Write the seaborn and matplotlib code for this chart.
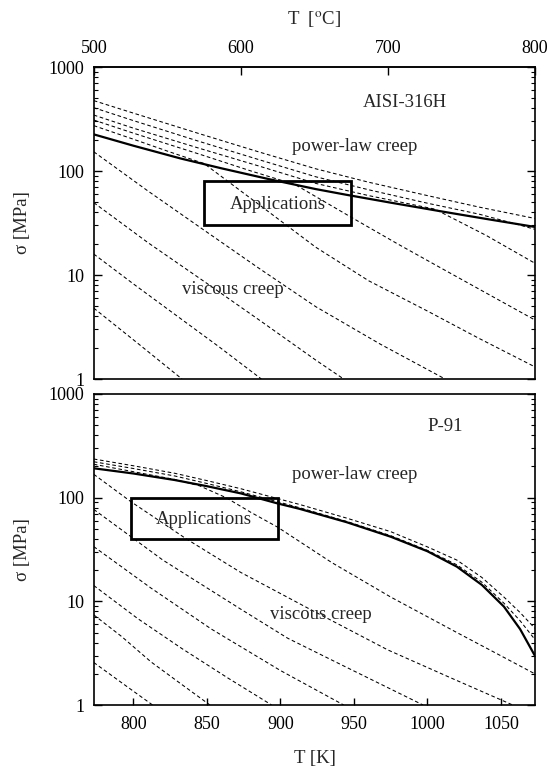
import numpy as np
import pandas as pd
import matplotlib
matplotlib.use("Agg")
import matplotlib.pyplot as plt
from matplotlib.patches import Rectangle
from matplotlib.ticker import LogLocator, NullFormatter, FuncFormatter, FixedLocator
import seaborn as sns

# ---------------- AISI-316H (upper map) ----------------
# boundary between power-law and viscous creep
ss_T = [773, 800, 832, 860, 893, 924, 945, 975, 1009, 1040, 1073]
ss_sig = [225, 175, 132, 106, 83, 67, 59, 49.6, 41, 34.6, 29]

# iso-strain-rate contours, T [K] / sigma [MPa]
ss_c1_T = [773, 800, 845, 885, 924, 960, 1000, 1035, 1073]
ss_c1_sig = [475, 360, 228, 153, 105, 78, 58, 45, 35]
ss_c2_T = [773, 800, 845, 885, 924, 960, 1000, 1035, 1060, 1073]
ss_c2_sig = [406, 305, 192, 129, 88, 66, 49, 38.5, 31, 27.5]
ss_c3_T = [773, 800, 845, 885, 924, 960, 1005, 1040, 1073]
ss_c3_sig = [345, 258, 165, 112, 76, 58, 43, 24, 13]
ss_c4_T = [773, 800, 845, 880, 910, 948, 980, 1010, 1040, 1073]
ss_c4_sig = [309, 231, 145, 100, 74, 36, 19.8, 11.5, 6.7, 3.7]
ss_c5_T = [773, 800, 825, 848, 885, 924, 960, 1000, 1035, 1073]
ss_c5_sig = [273, 202, 152, 118, 48, 18.5, 8.8, 4.5, 2.46, 1.31]
ss_c6_T = [773, 810, 848, 885, 924, 968, 1012]
ss_c6_sig = [153, 64, 27, 11.7, 4.96, 2.16, 1]
ss_c7_T = [773, 810, 850, 887, 924, 943]
ss_c7_sig = [49.6, 20.4, 8.3, 3.57, 1.52, 1]
ss_c8_T = [773, 800, 830, 858, 887]
ss_c8_sig = [15.9, 8.2, 4.0, 2.05, 1]
ss_c9_T = [773, 803, 833]
ss_c9_sig = [4.8, 2.2, 1]

ss_box_T = [848, 948]
ss_box_sig = [30, 80]

# ---------------- P-91 (lower map) ----------------
p91_T = [773, 800, 828, 850, 873, 898, 913, 945, 975, 1000, 1020, 1037, 1052, 1063, 1073]
p91_sig = [192, 171, 148, 129, 110, 88, 78, 58, 42, 30.4, 21.6, 14.4, 8.9, 5.4, 3.0]

p91_c1_T = [773, 800, 828, 850, 873, 913, 945, 975, 1000, 1020, 1037, 1052, 1063, 1073]
p91_c1_sig = [236, 203, 172, 146, 122, 86, 63.5, 47, 33.5, 25, 17, 11, 7.8, 5.5]
p91_c2_T = [773, 800, 828, 850, 873, 913, 945, 975, 1000, 1020, 1037, 1052, 1063, 1073]
p91_c2_sig = [222, 191, 162, 137, 114, 80, 59, 43, 31, 22.5, 15.3, 9.6, 6.5, 4.3]
p91_c3_T = [773, 800, 828, 845, 863, 880, 898, 935, 975, 1020, 1045, 1073]
p91_c3_sig = [210, 178, 150, 130, 100, 72, 52, 23.6, 11, 5, 3.25, 2.0]
p91_c4_T = [773, 798, 836, 873, 920, 973, 1015, 1058]
p91_c4_sig = [168, 92, 40, 19, 8.4, 3.4, 1.85, 1]
p91_c5_T = [773, 820, 873, 905, 940, 997]
p91_c5_sig = [77, 25, 8.4, 4.4, 2.5, 1]
p91_c6_T = [773, 812, 853, 900, 943]
p91_c6_sig = [33.7, 13.4, 5.4, 2.15, 1]
p91_c7_T = [773, 803, 833, 864, 894]
p91_c7_sig = [14.2, 6.8, 3.5, 1.83, 1]
p91_c8_T = [773, 792, 812, 832, 852]
p91_c8_sig = [7.4, 4.57, 2.6, 1.61, 1]
p91_c9_T = [773, 793, 813]
p91_c9_sig = [2.57, 1.6, 1]

p91_box_T = [798, 898]
p91_box_sig = [40, 100]


def contours(pairs):
    frames = []
    for i, (t, s) in enumerate(pairs):
        frames.append(pd.DataFrame({"T": t, "sigma": s, "curve": i}))
    return pd.concat(frames, ignore_index=True)


ss_contours = contours([
    (ss_c1_T, ss_c1_sig), (ss_c2_T, ss_c2_sig), (ss_c3_T, ss_c3_sig),
    (ss_c4_T, ss_c4_sig), (ss_c5_T, ss_c5_sig), (ss_c6_T, ss_c6_sig),
    (ss_c7_T, ss_c7_sig), (ss_c8_T, ss_c8_sig), (ss_c9_T, ss_c9_sig),
])
p91_contours = contours([
    (p91_c1_T, p91_c1_sig), (p91_c2_T, p91_c2_sig), (p91_c3_T, p91_c3_sig),
    (p91_c4_T, p91_c4_sig), (p91_c5_T, p91_c5_sig), (p91_c6_T, p91_c6_sig),
    (p91_c7_T, p91_c7_sig), (p91_c8_T, p91_c8_sig), (p91_c9_T, p91_c9_sig),
])
ss_boundary = pd.DataFrame({"T": ss_T, "sigma": ss_sig})
p91_boundary = pd.DataFrame({"T": p91_T, "sigma": p91_sig})

sns.set_theme(style="white")
plt.rcParams["font.family"] = ["Liberation Serif", "DejaVu Serif"]
plt.rcParams["mathtext.fontset"] = "stix"

FS = 13
fig = plt.figure(figsize=(5.5, 7.71), dpi=100)
ax1 = fig.add_axes([94 / 550, 1 - 379 / 771, 441 / 550, 312 / 771])
ax2 = fig.add_axes([94 / 550, 1 - 705 / 771, 441 / 550, 311 / 771])

T_MIN, T_MAX = 773.15, 1073.15


def draw_map(ax, cont, bound, box_T, box_sig):
    ax.set_yscale("log")
    ax.set_xlim(T_MIN, T_MAX)
    ax.set_ylim(1, 1000)
    sns.lineplot(data=cont, x="T", y="sigma", units="curve", estimator=None,
                 sort=False, color="black", lw=0.75, linestyle=(0, (3.5, 2.5)),
                 ax=ax, legend=False)
    sns.lineplot(data=bound, x="T", y="sigma", estimator=None, sort=False,
                 color="black", lw=1.6, ax=ax, legend=False)
    ax.add_patch(Rectangle((box_T[0], box_sig[0]), box_T[1] - box_T[0],
                           box_sig[1] - box_sig[0], fill=False,
                           edgecolor="black", lw=2.0, zorder=5))
    ax.set_xlabel("")
    ax.set_ylabel("")
    for sp in ax.spines.values():
        sp.set_linewidth(1.2)
        sp.set_color("black")
    ax.yaxis.set_major_locator(LogLocator(base=10, numticks=10))
    ax.yaxis.set_minor_locator(LogLocator(base=10, subs=np.arange(2, 10), numticks=10))
    ax.yaxis.set_major_formatter(FuncFormatter(lambda v, p: f"{v:g}"))
    ax.yaxis.set_minor_formatter(NullFormatter())
    ax.tick_params(axis="y", which="both", direction="in", left=True, right=True,
                   colors="black", labelsize=FS, pad=7)
    ax.tick_params(axis="y", which="major", length=6, width=1)
    ax.tick_params(axis="y", which="minor", length=3, width=0.8)


draw_map(ax1, ss_contours, ss_boundary, ss_box_T, ss_box_sig)
draw_map(ax2, p91_contours, p91_boundary, p91_box_T, p91_box_sig)

# upper map: Celsius scale on top, no Kelvin ticks
ax1.tick_params(axis="x", which="both", bottom=False, top=False,
                labelbottom=False, labeltop=False)
sec = ax1.secondary_xaxis("top", functions=(lambda k: k - 273.15, lambda c: c + 273.15))
sec.xaxis.set_major_locator(FixedLocator([500, 600, 700, 800]))
sec.xaxis.set_major_formatter(FuncFormatter(lambda v, p: f"{v:.0f}"))
sec.tick_params(axis="x", direction="in", length=6, width=1, labelsize=FS,
                pad=7, colors="black")
sec.spines["top"].set_linewidth(1.2)

# lower map: Kelvin scale on bottom
ax2.xaxis.set_major_locator(FixedLocator([800, 850, 900, 950, 1000, 1050]))
ax2.xaxis.set_major_formatter(FuncFormatter(lambda v, p: f"{v:.0f}"))
ax2.tick_params(axis="x", which="major", direction="in", bottom=True, top=False,
                length=5, width=1, labelsize=FS, pad=8, colors="black")

# annotations
ax1.text(956, 415, "AISI-316H", fontsize=13.5, ha="left", va="baseline")
ax1.text(908, 156, "power-law creep", fontsize=13.5, ha="left", va="baseline")
ax1.text(833, 6.6, "viscous creep", fontsize=13.5, ha="left", va="baseline")
ax1.text(898, 43, "Applications", fontsize=13.5, ha="center", va="baseline", zorder=6)

ax2.text(1000, 443, "P-91", fontsize=13.5, ha="left", va="baseline")
ax2.text(908, 150, "power-law creep", fontsize=13.5, ha="left", va="baseline")
ax2.text(893, 6.7, "viscous creep", fontsize=13.5, ha="left", va="baseline")
ax2.text(848, 55.7, "Applications", fontsize=13.5, ha="center", va="baseline", zorder=6)

# axis titles
fig.text(314.5 / 550, 1 - 20 / 771, r"T  [$^{\mathrm{o}}$C]", fontsize=13.5,
         ha="center", va="center")
fig.text(314.5 / 550, 1 - 758 / 771, "T [K]", fontsize=13.5, ha="center", va="center")
fig.text(22 / 550, 1 - 223 / 771, "σ [MPa]", fontsize=13.5, ha="center",
         va="center", rotation=90)
fig.text(22 / 550, 1 - 550 / 771, "σ [MPa]", fontsize=13.5, ha="center",
         va="center", rotation=90)

fig.savefig("out.png", dpi=100, facecolor="white")
